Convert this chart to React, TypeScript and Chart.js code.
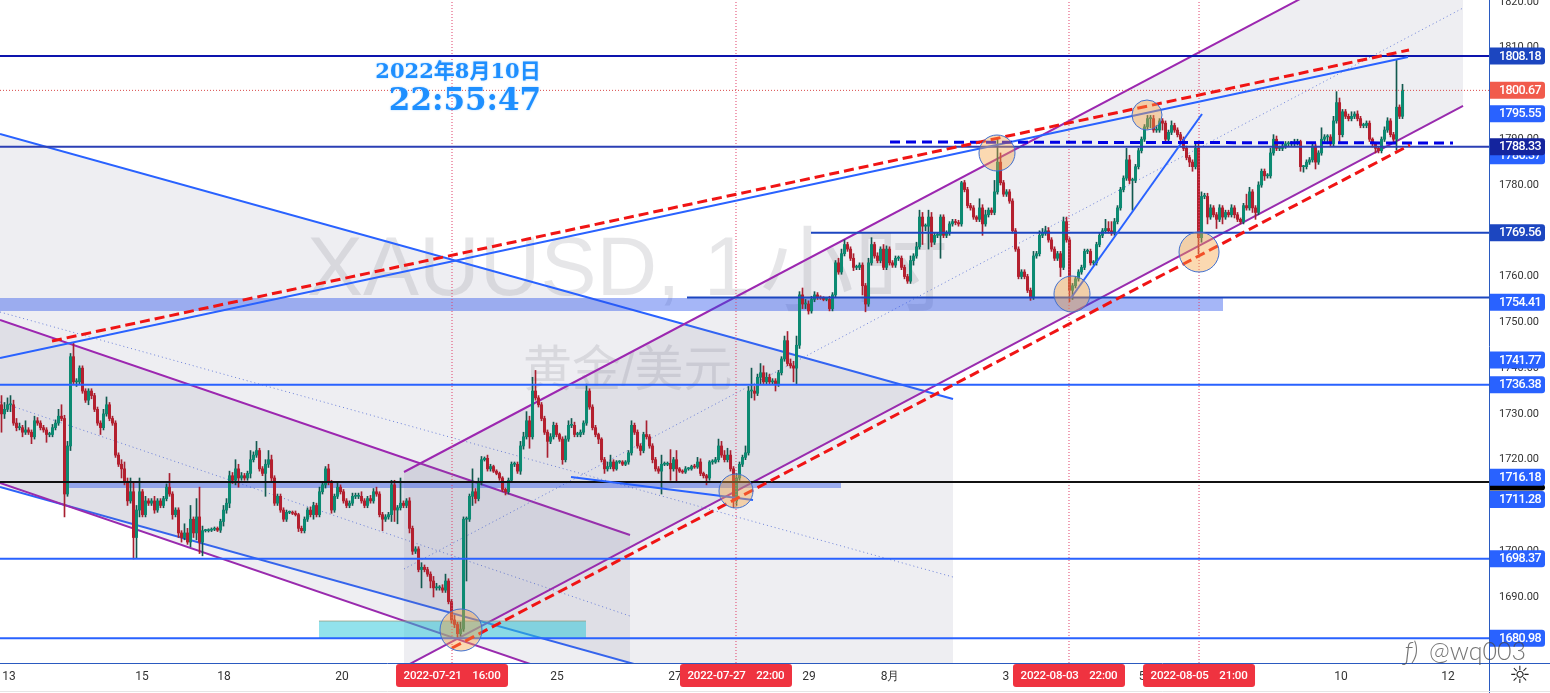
import React, { useEffect, useRef } from "react";
import { Chart, registerables } from "chart.js";

Chart.register(...registerables);

const firstOpen = 1732;
const closes = [
  1730,1731,1732,1732,1728,1727,1727,1726,1726.5,1726,
  1725,1728.5,1728,1727,1726.5,1725.5,1725.5,1727,1728,1729.5,
  1729,1712.5,1723,1742.5,1737,1737,1740,1735,1733,1735,
  1734,1731,1728,1727,1730,1732,1729,1728,1721,1719,
  1718,1715,1711,1713,1703,1709,1713,1708,1711,1710.5,
  1711,1709,1711,1710,1711.5,1714,1712.5,1708,1709,1704,
  1703,1704,1702,1707,1704,1707.5,1702,1704.5,1704.5,1704.6,
  1704.8,1705,1704.6,1706.5,1709,1710.5,1716.5,1715.5,1718,1716,
  1716.5,1716,1717,1720,1721,1722,1718,1717,1719,1720,
  1716,1710.5,1712,1709,1707,1708.5,1708.5,1708.3,1708,1705,
  1704.5,1707,1709,1708,1710,1708,1713,1714.5,1718,1715,
  1709,1712,1714,1713,1711,1710,1710.5,1712,1712,1712,
  1711,1710,1711.5,1711,1713,1712.5,1708,1707,1707.5,1708,
  1714.5,1709,1709.5,1710.5,1710,1711,1705,1700,1700.5,1696,
  1696.5,1696,1695,1693.5,1692,1692,1692,1691.5,1693.5,1689,
  1685,1684,1682,1683,1707,1707,1712,1713,1711.5,1715,
  1720,1720.3,1718,1718.5,1717.5,1717,1716,1713.5,1713,1715.5,
  1719,1719,1717.5,1723,1725,1728.5,1725,1735,1733.5,1732,
  1729,1726,1724,1725,1727.5,1725.5,1724.5,1720,1724.5,1727.5,
  1727.5,1725.5,1725.5,1726,1728,1735,1731.5,1727,1725.5,1724.5,
  1720,1718,1718.5,1719.5,1718,1719.5,1719.5,1719,1719.5,1721.5,
  1727.5,1726,1723,1722,1725.5,1725,1723,1720,1718,1717.5,
  1719,1719,1719.2,1718,1720,1718,1717.5,1717.3,1718,1718,
  1718.5,1718.4,1719.5,1717,1716.5,1716,1719.5,1719.5,1720,1723,
  1721,1720,1721,1718,1711,1716,1719,1720.5,1721.5,1735,
  1735,1734.5,1738,1739,1737,1738,1737,1737.2,1736.5,1739,
  1742,1746,1741,1740.5,1740,1745,1756,1754,1754,1752.5,
  1755,1756,1755.5,1755.3,1755,1755,1753,1756,1763,1761,
  1765,1767,1766,1764,1762,1762,1762.5,1758,1754,1763,
  1767,1764.5,1763.5,1766,1762,1766,1763,1762.5,1764,1764,
  1762,1760,1759,1763.5,1764.5,1766.5,1773,1771,1771,1773,
  1767.5,1769,1769,1773,1769,1769.5,1771.5,1772,1771.8,1771.5,
  1780.5,1779,1775.5,1775,1773,1772.5,1775,1771.5,1773.5,1774.5,
  1774,1778.5,1785,1780.5,1778,1778.5,1776.5,1770,1766,1760,
  1761,1760,1757,1755.5,1764.5,1765,1769,1769.5,1770,1768,
  1766,1764,1765,1762,1772,1768,1757,1758,1759.5,1761,
  1762,1765.5,1765.5,1763,1763,1767,1769,1770,1770.5,1770,
  1769.5,1772,1775,1779,1781.5,1785.5,1781,1781,1784,1787.5,
  1790,1792.7,1794.5,1794.5,1792,1792,1794,1793.5,1790,1791.5,
  1793,1792,1791,1790,1788,1786,1785,1784,1788,1768.5,
  1777.5,1777.5,1773,1775,1773.5,1772.5,1775,1773,1774,1773.5,
  1775,1773.5,1772.5,1772,1775.5,1775,1778.5,1775,1774,1780,
  1783,1782,1782,1787,1790,1788,1788,1788.5,1789,1789,
  1789,1789,1789.5,1784,1784,1785,1785.5,1788.5,1785,1787,
  1790,1790.5,1790.5,1789,1794,1798,1791,1796,1795,1794.5,
  1795,1795.5,1794.5,1793,1793,1793.5,1790,1789,1788,1787.5,
  1790,1792,1794,1791,1790,1797,1795,1800.7,
];
const wickUp = [
  2,1.5,1.5,2,1,1,1,.5,2,.5,
  .5,1,.7,.5,.5,.5,.5,.7,.7,1.5,
  2.5,.7,1,.7,3,.7,.5,.5,.5,.5,
  .5,.5,.5,.5,1,1.7,.5,.5,.5,.5,
  1,1.5,1,3,2,1,3,.5,1,.5,
  .5,1,.5,.5,.5,.7,3,.5,.5,.5,
  .5,2,1,3,.5,4,6.5,1,.3,.3,
  .3,.3,.3,.5,1,1,1,.7,2,1,
  .7,.5,.5,2,.7,2,.5,.5,1,2,
  1,.5,.5,.5,.5,.5,.3,.3,.5,.3,
  .5,.5,.5,.7,.7,.5,1,.7,.5,1,
  .5,.5,1,.5,.5,.5,.5,.7,.7,.7,
  1,.5,.5,.7,.7,1,.5,.5,.5,.5,
  1,1,.5,5.5,.5,.5,.7,.5,.5,.5,
  1,.5,.5,.5,1,1,.5,.7,1.5,.5,
  .5,1,.5,1.5,.5,.5,.5,5,.7,1,
  .7,.3,.7,.5,.3,.3,.3,.3,.3,.5,
  .5,.5,.5,1,1,2,1,3,4.5,.5,
  .5,.5,.5,.7,.7,.5,.3,.5,.7,1,
  1.5,.7,.5,.5,.5,1.5,.5,.5,.5,.3,
  .3,.5,1,1.5,.5,.3,.3,.3,.3,.5,
  1,.5,.5,.5,.5,3,.5,.5,.5,.5,
  2,.5,.3,3,.5,2,.3,.3,.5,.3,
  .3,.5,1,.7,.3,.3,.3,.5,.5,1.5,
  1,1,1.5,1,.5,1,.5,.5,1.5,1,
  5,1,.7,2,1.5,1,.7,.5,.5,.5,
  .5,1,2,1,1,2,.7,1.5,1,.7,
  .7,.7,.5,.3,.3,.3,.7,.5,.5,1,
  1,1,.5,.5,1,.5,.5,.5,.5,1,
  1.5,.5,.7,.5,1,.7,.5,.5,.5,.5,
  .5,.5,.5,1,.5,1,1.5,1,.5,1.5,
  1,.5,.5,.5,.5,.5,.5,.5,.5,.5,
  .3,.5,.5,.5,.5,.3,2,.7,1,.5,
  .5,2.5,5,2,.5,.5,.5,.5,.5,.5,
  .5,.5,.5,.5,1,.5,1,1,1,.7,
  .5,.5,.5,.5,1,1,.5,.5,.5,.5,
  .5,.5,.5,.5,.5,.5,.5,.5,2,1.5,
  2,.7,.5,.5,.5,2.5,1,.5,.5,.5,
  .5,.5,.7,.7,.7,1,.5,.5,.5,.5,
  1,.5,.5,.5,.5,.5,.5,.5,1,1.2,
  1,.7,.7,.7,.5,.5,.7,.5,.5,.5,
  .7,.5,.5,.3,.5,2.5,1,.5,.5,.7,
  .5,.5,.5,1,1,.7,.5,.5,.5,.5,
  .5,1,.5,.3,.3,.5,.5,.5,.5,.5,
  2.5,.5,.5,.5,1,2.4,1,.5,.5,.5,
  1,.5,.7,.5,.5,.5,.5,.3,.3,.3,
  .5,.7,.7,.5,.5,10.3,.5,1.3,
];
const wickDown = [
  4,1,.5,1.5,.5,.7,.5,1,.5,.5,
  1.5,.5,.5,.5,.5,1.7,.5,.5,.5,.5,
  .5,5,.5,1,.5,1,.5,.5,.5,1,
  .7,.5,.5,1.5,.5,.5,.5,.5,.5,.5,
  2,.5,1,.5,4.7,4.5,1.5,.5,.5,.5,
  .5,.7,.5,.5,.5,.5,.5,1,.5,1,
  1,.5,.5,1,1,1.5,2.5,3,.3,.3,
  .3,.3,.3,.5,1,.7,1,.7,1,2,
  .5,.5,.5,1,.5,.5,.5,.5,5,.7,
  .7,.5,.5,.5,.5,.5,.3,.3,.3,.7,
  .5,.5,.5,.5,1,.5,.5,.5,.7,.5,
  .7,.5,.5,.5,.5,.5,.5,.5,.5,.5,
  .5,.5,.5,.5,.5,.5,.5,2.5,.5,.5,
  1.5,2.5,3,.5,.5,.5,1,.7,.5,.5,
  4,.5,.5,1.5,2,.5,.5,.5,.5,.5,
  .7,.7,1,.5,.5,13.5,.5,2,1,.5,
  .5,.3,.5,.5,.3,.3,.5,.5,.7,.5,
  .5,.5,.5,.7,.7,.5,2.5,.5,.5,.5,
  .5,.5,3.5,.5,.5,.5,.5,1,.5,.5,
  .5,.5,.5,.5,.5,.5,.5,.5,.5,1,
  .5,1,.5,.5,.5,.3,.3,.3,.3,.5,
  .5,.5,.5,1,.5,.5,.5,.7,.5,.5,
  5,.3,.3,2.5,.5,3,.3,.3,.3,.3,
  .3,.3,.3,.5,.5,1.5,.5,.5,.3,.5,
  .5,.5,.5,.5,1.5,1,.5,.5,.5,.5,
  1.5,1.5,.5,1.5,.5,.5,.5,.5,1.5,.5,
  .5,.5,.5,.5,3,3.5,.7,1,1,.7,
  .5,.5,.5,.3,.3,.3,.5,.5,.5,.5,
  .5,.5,.5,.5,.7,.5,.5,2,1.7,.5,
  .5,.5,.5,.5,.5,.5,.5,.5,.5,.5,
  .5,.5,.5,.5,1,.5,.5,4,1,5,
  1,.5,.5,5,.5,.5,.5,.5,.5,.5,
  .5,.5,.5,.5,.5,.5,.5,2.5,.5,.5,
  .5,.5,.5,.5,.5,.5,.5,.5,.5,.5,
  .5,.5,.5,.7,.5,.5,.5,.5,.5,.5,
  .5,.5,.5,2,.5,.5,2.5,2,.5,.5,
  .5,.5,.5,.5,.5,.5,.5,.5,.5,.5,
  .5,.5,.5,.5,.5,.5,.7,6.5,.5,.5,
  .5,.5,.5,2,.5,.5,.5,1.5,.5,.5,
  .5,.5,.5,.5,.5,.5,1,1,.5,3.5,
  1,.5,1.5,.5,.5,2,.5,1.5,.5,.5,
  .5,.7,.5,.5,.5,.5,.5,1,1.5,.5,
  .5,1,.5,.5,.5,.5,.5,.5,.5,.5,
  .5,.5,.3,1,1.2,.5,.5,.5,1.5,.5,
  .5,.5,1.5,.5,.5,.5,1.5,.5,.5,.5,
  .5,.5,.5,.5,.5,.5,.5,.7,1,.5,
  .5,.5,.5,.5,1,2.4,.5,.5,
];

const priceMin = 1675.59;
const priceMax = 1820.41;
const barMin = -0.5;
const barMax = 495.83;
const priceTicks = [1690,1700,1710,1720,1730,1740,1750,1760,1770,1780,1790,1800,1810,1820];
const dayTickBars = [2.5,46.8,74.2,113.5,185.2,224.5,269.2,296.2,334.8,380.2,446.5,482.2];
const dayTickLabels = ["13","15","18","20","25","27","29","8月","3","5","10","12"];

// trend tools: [bar, price] anchors
const descChannelTop = [[-0.5,1791.14],[317.17,1733.25]];
const descChannelMid = [[-0.5,1752.26],[317.17,1694.37]];
const descChannelBot = [[-0.5,1714.03],[317.17,1655.93]];
const purpleDownTop = [[-0.5,1750.51],[209.5,1703.55]];
const purpleDownMid = [[-0.5,1732.6],[209.5,1685.85]];
const purpleDownBot = [[-0.5,1714.91],[209.5,1667.94]];
const purpleUpTop = [[134.17,1717.31],[487.17,1839.42]];
const purpleUpMid = [[134.17,1696.12],[487.17,1818.66]];
const purpleUpBot = [[134.17,1674.71],[487.17,1797.26]];
const bandLowTop = [[21.17,1715.12],[279.83,1715.12]];
const bandLowBot = [[21.17,1713.81],[279.83,1713.81]];
const bandHighTop = [[-0.5,1755.32],[407.17,1755.32]];
const bandHighBot = [[-0.5,1752.48],[407.17,1752.48]];
const cyanTop = [[105.83,1684.76],[194.83,1684.76]];
const cyanBot = [[105.83,1681.05],[194.83,1681.05]];
const blueUpper = [[-0.5,1742.21],[468.83,1807.96]];
const redUpper = [[16.83,1745.92],[469.17,1809.49]];
const redLower = [[150.17,1678.86],[469.5,1788.74]];
const blueDashed = [[296.17,1789.39],[483.83,1789.17]];
const blueShortUp = [[356.5,1755.32],[400.17,1795.51]];
const blueShortFlat = [[189.83,1716.22],[250.5,1711.2]];

const fullLevels = [1808.18,1788.33,1736.38,1698.37,1680.98];
const fullLevelColors = ["#0d14ad","#2b3fb4","#2962ff","#2962ff","#2962ff"];
const partLevelPrices = [1769.56,1755.4];
const partLevelStarts = [269.83,228.5];
const blackLevel = 1715.1;
const lastPrice = 1800.67;
const markerBars = [150.17,244.83,355.83,399.17];
const markerLabels = ["2022-07-21    16:00","2022-07-27    22:00","2022-08-03    22:00","2022-08-05    21:00"];
const circleBars = [153.17,244.83,331.83,356.83,381.83,399.17];
const circlePrices = [1682.8,1713.16,1786.99,1756.19,1795.29,1765.36];
const circleRadii = [21,17,18,18,15,20];
const tagPrices = [1713.9,1808.18,1800.67,1795.55,1786.37,1788.33,1769.56,1754.41,1741.77,1736.38,1716.18,1711.28,1698.37,1680.98];
const tagColors = ["#000000","#1c46c0","#f15b4c","#2962ff","#2962ff","#14249e","#1c46c0","#2962ff","#2962ff","#2962ff","#2962ff","#2962ff","#2962ff","#2962ff"];
const titleDate = "2022年8月10日";
const titleTime = "22:55:47";
const watermarkLatin = "XAUUSD, 1";
const watermarkHan = "小时";
const watermarkSub = "黄金/美元";
const creditText = "@wq003";

const toXY = (pts: number[][]) => pts.map(([x, y]) => ({ x, y }));

function lineSet(pts: number[][], color: string, width: number, order: number, extra: any = {}) {
  return {
    type: "line",
    data: toXY(pts),
    borderColor: color,
    borderWidth: width,
    pointRadius: 0,
    tension: 0,
    order,
    ...extra,
  };
}

const noPad = (s: any) => {
  s.paddingLeft = 0;
  s.paddingRight = 0;
  s.paddingTop = 0;
  s.paddingBottom = 0;
};

const overlay = {
  id: "overlay",
  beforeDatasetsDraw(chart: any) {
    const { ctx, chartArea: a } = chart;
    ctx.save();
    ctx.beginPath();
    ctx.rect(a.left, a.top, a.right - a.left, a.bottom - a.top);
    ctx.clip();
    ctx.textBaseline = "middle";
    ctx.textAlign = "left";
    ctx.fillStyle = "rgba(120,123,134,0.19)";
    ctx.font = '84px "Liberation Sans", "Noto Sans CJK SC"';
    ctx.fillText(watermarkLatin, 307, 272);
    ctx.font = '94px "Noto Sans CJK SC"';
    ctx.fillText(watermarkHan, 760, 268);
    ctx.font = '49px "Liberation Sans", "Noto Sans CJK SC"';
    ctx.fillText(watermarkSub, 523, 372);
    ctx.restore();
  },
  afterDatasetsDraw(chart: any) {
    const { ctx, chartArea: a, scales } = chart;
    const xs = scales.x;
    const ys = scales.y;
    ctx.save();
    // title
    ctx.textAlign = "center";
    ctx.textBaseline = "middle";
    ctx.fillStyle = "#1e8fff";
    ctx.shadowColor = "rgba(120,190,255,0.7)";
    ctx.shadowBlur = 2;
    ctx.font = 'bold 21px "DejaVu Serif", "Noto Sans CJK SC"';
    ctx.fillText(titleDate, 458, 73);
    ctx.font = 'bold 31px "DejaVu Serif"';
    ctx.fillText(titleTime, 465, 102);
    ctx.shadowBlur = 0;

    // axis frame
    ctx.strokeStyle = "#2a5ac0";
    ctx.lineWidth = 1;
    ctx.beginPath();
    ctx.moveTo(a.right + 0.5, 0);
    ctx.lineTo(a.right + 0.5, 693);
    ctx.moveTo(0, a.bottom + 0.5);
    ctx.lineTo(1550, a.bottom + 0.5);
    ctx.stroke();
    ctx.strokeStyle = "#e6e6e6";
    ctx.beginPath();
    ctx.moveTo(0, 691.5);
    ctx.lineTo(1550, 691.5);
    ctx.stroke();

    // price tags
    ctx.textAlign = "left";
    ctx.font = '500 12.5px Roboto';
    ctx.letterSpacing = "-0.6px";
    tagPrices.forEach((p, i) => {
      const y = ys.getPixelForValue(p);
      ctx.fillStyle = tagColors[i];
      const h = tagColors[i] === "#000000" ? 6 : 17;
      ctx.beginPath();
      ctx.roundRect(a.right + 1, y - h / 2, 55, h, [0, 3, 3, 0]);
      ctx.fill();
      if (tagColors[i] !== "#000000") {
        ctx.fillStyle = "#ffffff";
        ctx.fillText(p.toFixed(2), a.right + 10, y + 0.5);
      }
    });

    // time tags
    ctx.textAlign = "center";
    ctx.letterSpacing = "-0.2px";
    markerBars.forEach((b, i) => {
      const x = xs.getPixelForValue(b);
      ctx.fillStyle = "#ef3340";
      ctx.beginPath();
      ctx.roundRect(x - 56, a.bottom + 1, 112, 23, 3);
      ctx.fill();
      ctx.fillStyle = "#ffffff";
      ctx.font = '500 11.5px Roboto';
      ctx.fillText(markerLabels[i], x, a.bottom + 13);
    });
    ctx.letterSpacing = "0px";

    // sun icon
    ctx.fillStyle = "#222";
    ctx.font = '24px "DejaVu Sans"';
    ctx.fillText("☼", 1520, 677);

    // credit
    ctx.textAlign = "left";
    ctx.fillStyle = "rgba(70,70,70,0.75)";
    ctx.font = '300 25px Lato';
    ctx.fillText(creditText, 1429, 652);
    ctx.font = 'italic 300 25px Lato';
    ctx.fillText("ƒ)", 1405, 652);
    ctx.restore();
  },
};

export default function App() {
  const ref = useRef<HTMLCanvasElement>(null);
  useEffect(() => {
    document.body.style.margin = "0";
    const opens = closes.map((_, i) => (i === 0 ? firstOpen : closes[i - 1]));
    const isUp = closes.map((c, i) => c >= opens[i]);
    const bodyColors = isUp.map((u) => (u ? "#0c8a72" : "#b4202f"));
    const wickColors = isUp.map((u) => (u ? "#12594f" : "#a81f30"));
    const bodies = closes.map((c, i) => ({ x: i, y: [opens[i], c] }));
    const wicks = closes.map((c, i) => ({
      x: i,
      y: [Math.min(opens[i], c) - (wickDown[i] ?? 0.5), Math.max(opens[i], c) + (wickUp[i] ?? 0.5)],
    }));

    const grey = "rgba(115,115,150,0.12)";
    const blue = "#2962ff";
    const purple = "#9c27b0";
    const dotted = "rgba(70,100,220,0.8)";
    const bandFill = "rgba(41,80,235,0.42)";
    const datasets: any[] = [
      // channels
      lineSet(descChannelTop, blue, 2, 100, { fill: "+2", backgroundColor: grey }),
      lineSet(descChannelMid, dotted, 1, 100, { borderDash: [1, 3] }),
      lineSet(descChannelBot, blue, 2, 100),
      lineSet(purpleDownTop, purple, 2, 99, { fill: "+2", backgroundColor: grey }),
      lineSet(purpleDownMid, dotted, 1, 99, { borderDash: [1, 3] }),
      lineSet(purpleDownBot, purple, 2, 99),
      lineSet(purpleUpTop, purple, 2, 98, { fill: "+2", backgroundColor: grey }),
      lineSet(purpleUpMid, dotted, 1, 98, { borderDash: [1, 3] }),
      lineSet(purpleUpBot, purple, 2, 98),
      // zones
      lineSet(bandLowTop, "transparent", 0, 97, { fill: "+1", backgroundColor: bandFill }),
      lineSet(bandLowBot, "transparent", 0, 97),
      lineSet(bandHighTop, "transparent", 0, 96, { fill: "+1", backgroundColor: bandFill }),
      lineSet(bandHighBot, "transparent", 0, 96),
      lineSet(cyanTop, "rgba(150,150,120,0.7)", 1, 95, { fill: "+1", backgroundColor: "rgba(38,198,218,0.5)" }),
      lineSet(cyanBot, "transparent", 0, 95),
      // candles
      {
        type: "bar",
        data: wicks,
        backgroundColor: wickColors,
        barThickness: 1,
        grouped: false,
        order: 60,
      },
      {
        type: "bar",
        data: bodies,
        backgroundColor: bodyColors,
        barThickness: 2.4,
        minBarLength: 1,
        grouped: false,
        order: 59,
      },
      // levels
      ...fullLevels.map((p, i) =>
        lineSet([[barMin, p], [barMax, p]], fullLevelColors[i], 2, 40)
      ),
      ...partLevelPrices.map((p, i) =>
        lineSet([[partLevelStarts[i], p], [barMax, p]], "#1c46c0", 2, 40)
      ),
      lineSet([[barMin, blackLevel], [barMax, blackLevel]], "#111", 2, 40),
      lineSet([[barMin, lastPrice], [barMax, lastPrice]], "#d84a4a", 1, 40, { borderDash: [1, 2] }),
      ...markerBars.map((b) =>
        lineSet([[b, priceMin], [b, priceMax]], "#e0406a", 1, 40, { borderDash: [1, 2] })
      ),
      // trends
      lineSet(blueUpper, blue, 2, 30),
      lineSet(redUpper, "#f01414", 3, 29, { borderDash: [10, 5] }),
      lineSet(redLower, "#f01414", 3, 29, { borderDash: [10, 5] }),
      lineSet(blueDashed, "#0000e6", 3, 29, { borderDash: [10, 6] }),
      lineSet(blueShortUp, blue, 2, 30),
      lineSet(blueShortFlat, blue, 2, 30),
      // circles
      {
        type: "bubble",
        data: circleBars.map((b, i) => ({ x: b, y: circlePrices[i], r: circleRadii[i] })),
        backgroundColor: "rgba(245,165,70,0.42)",
        borderColor: "#3f6fd0",
        borderWidth: 1,
        order: 20,
      },
    ];

    const chart = new Chart(ref.current as HTMLCanvasElement, {
      type: "bar",
      data: { datasets },
      plugins: [overlay],
      options: {
        animation: false,
        responsive: false,
        events: [],
        layout: { padding: 0, autoPadding: false },
        plugins: { legend: { display: false }, tooltip: { enabled: false } },
        scales: {
          x: {
            type: "linear",
            offset: false,
            min: barMin,
            max: barMax,
            grid: { display: false, drawTicks: false },
            border: { display: false },
            afterFit: (s: any) => { s.height = 30; noPad(s); },
            afterBuildTicks: (s: any) => { s.ticks = dayTickBars.map((v) => ({ value: v })); },
            ticks: {
              autoSkip: false,
              maxRotation: 0,
              color: "#333",
              padding: 7,
              font: { family: "Roboto", size: 12 },
              callback: (_v: any, i: number) => dayTickLabels[i],
            },
          },
          y: {
            type: "linear",
            position: "right",
            min: priceMin,
            max: priceMax,
            grid: { display: false, drawTicks: false },
            border: { display: false },
            afterFit: (s: any) => { s.width = 61; noPad(s); },
            afterBuildTicks: (s: any) => { s.ticks = priceTicks.map((v) => ({ value: v })); },
            ticks: {
              color: "#333",
              padding: 10,
              font: { family: "Roboto", size: 11 },
              callback: (v: any) => Number(v).toFixed(2),
            },
          },
        },
      } as any,
    } as any);
    return () => chart.destroy();
  }, []);
  return (
    <div style={{ position: "absolute", left: 0, top: 0, width: 1550, height: 693, background: "#fff" }}>
      <canvas ref={ref} width={1550} height={693} style={{ display: "block" }} />
    </div>
  );
}
